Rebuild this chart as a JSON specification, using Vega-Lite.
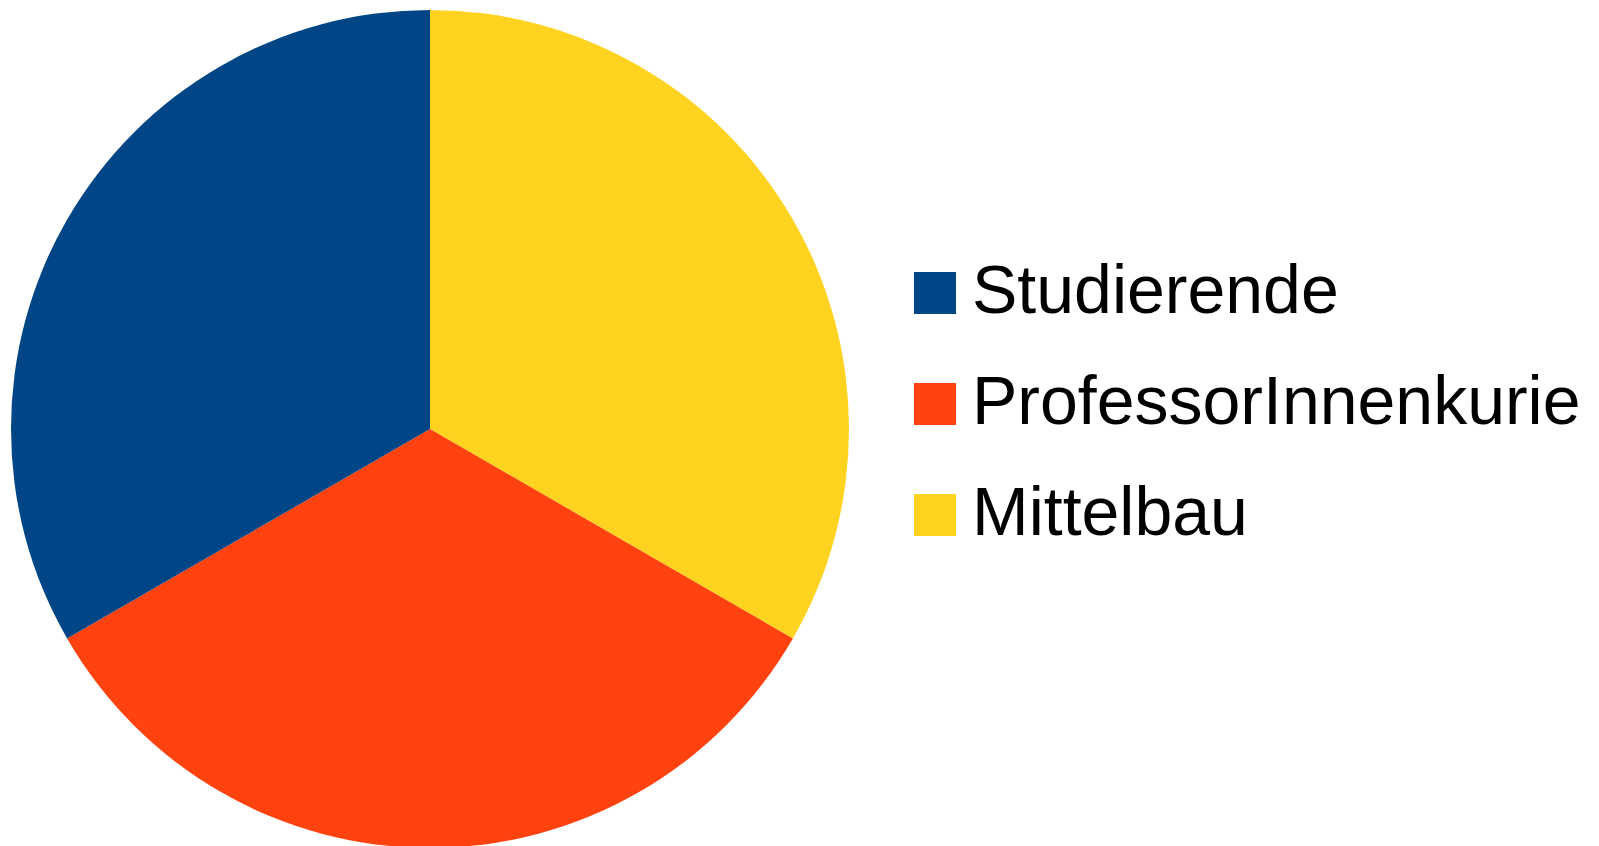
{
  "$schema": "https://vega.github.io/schema/vega-lite/v6.json",
  "width": 860,
  "height": 858,
  "padding": 0,
  "background": "white",
  "config": {"view": {"stroke": null}},
  "data": {
    "values": [
      {"kurie": "Mittelbau", "anteil": 1, "ord": 1},
      {"kurie": "ProfessorInnenkurie", "anteil": 1, "ord": 2},
      {"kurie": "Studierende", "anteil": 1, "ord": 3}
    ]
  },
  "mark": {"type": "arc", "radius": 419},
  "encoding": {
    "theta": {"field": "anteil", "type": "quantitative", "stack": true},
    "order": {"field": "ord", "type": "quantitative"},
    "color": {
      "field": "kurie",
      "type": "nominal",
      "scale": {
        "domain": ["Studierende", "ProfessorInnenkurie", "Mittelbau"],
        "range": ["#004586", "#ff420e", "#ffd320"]
      },
      "legend": {
        "title": null,
        "orient": "none",
        "legendX": 901,
        "legendY": 259,
        "padding": 0,
        "symbolType": "square",
        "symbolSize": 1764,
        "symbolStrokeWidth": 0,
        "labelFont": "Liberation Sans",
        "labelFontSize": 68,
        "labelColor": "#000000",
        "labelOffset": 3,
        "labelLimit": 1000,
        "rowPadding": 43
      }
    }
  }
}
